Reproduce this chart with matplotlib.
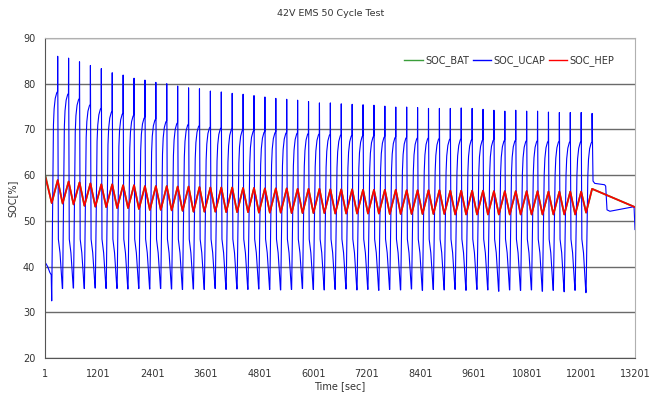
import numpy as np
import matplotlib
matplotlib.use('Agg')
from matplotlib import pyplot as plt

# timing of the 50 cycles [sec]
first_peak_t = 285
cycle_len = 244

# per-cycle values
ucap_peak = [86.0, 85.6, 84.8, 84.0, 83.3, 82.4, 81.9, 81.2, 80.8, 80.3,
             80.0, 79.5, 79.1, 78.9, 78.4, 78.2, 77.9, 77.7, 77.4, 77.1,
             76.8, 76.6, 76.4, 76.1, 75.8, 75.8, 75.6, 75.5, 75.4, 75.3,
             75.1, 74.9, 74.9, 74.8, 74.6, 74.6, 74.6, 74.7, 74.6, 74.4,
             74.2, 74.0, 74.2, 74.0, 74.0, 73.8, 73.7, 73.7, 73.7, 73.5]
ucap_shoulder = [78.0, 77.6, 76.5, 75.2, 74.4, 73.7, 73.3, 72.9, 72.4, 72.0,
                 71.6, 71.2, 70.9, 70.6, 70.3, 70.1, 69.9, 69.7, 69.5, 69.3,
                 69.2, 69.1, 69.0, 68.9, 68.8, 68.7, 68.6, 68.5, 68.4, 68.3,
                 68.2, 68.1, 68.0, 67.9, 67.9, 67.8, 67.7, 67.7, 67.6, 67.5,
                 67.5, 67.4, 67.4, 67.3, 67.3, 67.2, 67.2, 67.1, 67.1, 67.0]
ucap_low = [32.5, 35.2, 35.3, 35.2, 35.3, 35.2, 35.2, 35.1, 35.2, 35.1,
            35.2, 35.1, 35.0, 35.1, 35.0, 35.2, 35.0, 35.1, 35.0, 35.1,
            35.0, 34.9, 35.0, 35.2, 35.0, 34.9, 35.0, 35.1, 34.9, 35.0,
            34.8, 35.0, 34.9, 35.1, 34.8, 35.0, 34.9, 35.0, 34.8, 35.0,
            34.9, 34.6, 34.9, 34.8, 34.9, 34.6, 34.8, 34.5, 34.8, 34.3]
hep_peak = [58.9, 58.6, 58.4, 58.2, 58.0, 58.0, 57.8, 57.8, 57.6, 57.6,
            57.6, 57.5, 57.5, 57.4, 57.3, 57.3, 57.3, 57.2, 57.2, 57.1,
            57.1, 57.1, 57.0, 57.0, 57.0, 56.9, 56.9, 56.9, 56.8, 56.8,
            56.8, 56.8, 56.7, 56.7, 56.7, 56.7, 56.6, 56.6, 56.6, 56.6,
            56.5, 56.5, 56.5, 56.5, 56.5, 56.4, 56.4, 56.4, 56.4, 57.0]
hep_low = [53.9, 53.8, 53.6, 53.3, 53.1, 53.0, 52.8, 52.8, 52.6, 52.4,
           52.4, 52.3, 52.2, 52.0, 52.0, 52.0, 51.9, 51.9, 51.9, 51.8,
           51.8, 51.8, 51.7, 51.7, 51.7, 51.7, 51.6, 51.6, 51.6, 51.6,
           51.6, 51.5, 51.5, 51.5, 51.5, 51.5, 51.5, 51.4, 51.4, 51.4,
           51.4, 51.4, 51.4, 51.4, 51.4, 51.4, 51.4, 51.4, 51.4, 51.8]

# UCAP shape inside one cycle, offsets from the spike [sec]
rise_dt = [-134, -95, -80, -55, -22, -3]
rise_dv = [None, -7.0, -3.5, -1.2, 0.0, 0.3]   # relative to shoulder
fall_dt = [15, 52, 104]
fall_v = [46.0, 43.0, None]                   # None -> next low

# before the first cycle
start_t = [1, 60, 110, 140]
start_ucap = [41.0, 40.0, 38.7, 38.2]
start_hep_t = [1]
start_hep = [60.0]
start_bat_t = [1, 8]
start_bat = [44.0, 60.0]

# after the last cycle
tail_t = [12262, 12300, 12520, 12545, 12575, 12640, 13180, 13201]
tail_ucap = [58.7, 58.2, 57.9, 57.6, 52.4, 52.1, 53.1, 48.1]
end_t = 13201
end_hep = 53.0

x_ticks = [1, 1201, 2401, 3601, 4801, 6001, 7201, 8401, 9601, 10801, 12001, 13201]

# build the series
ut, uv = list(start_t), list(start_ucap)
ht, hv = list(start_hep_t), list(start_hep)
n = len(ucap_peak)
for k in range(n):
    tp = first_peak_t + k * cycle_len
    for dt, dv in zip(rise_dt, rise_dv):
        ut.append(tp + dt)
        uv.append(ucap_low[k] if dv is None else ucap_shoulder[k] + dv)
    ut.append(tp)
    uv.append(ucap_peak[k])
    if k < n - 1:
        for dt, v in zip(fall_dt, fall_v):
            ut.append(tp + dt)
            uv.append(ucap_low[k + 1] if v is None else v)
    ht += [tp - 134, tp]
    hv += [hep_low[k], hep_peak[k]]
ut += tail_t
uv += tail_ucap
ht.append(end_t)
hv.append(end_hep)
bt = start_bat_t + ht[1:]
bv = start_bat + hv[1:]

plt.rcParams['font.family'] = 'DejaVu Sans'
fig = plt.figure(figsize=(6.54, 3.98), dpi=100)
ax = fig.add_axes([45 / 654, 1 - 358 / 398, 590 / 654, 320 / 398])

ax.plot(bt, bv, color='#3a9e3a', lw=1.3, label='SOC_BAT')
ax.plot(ut, uv, color='#0000ff', lw=0.8, label='SOC_UCAP')
ax.plot(ht, hv, color='#ff0000', lw=1.2, label='SOC_HEP')

ax.set_xlim(1, 13201)
ax.set_ylim(20, 90)
ax.set_xticks(x_ticks)
ax.set_yticks(range(20, 91, 10))
ax.yaxis.grid(True, color='#6a6a6a', lw=1.0)
ax.set_axisbelow(True)
ax.tick_params(length=0, labelsize=7, colors='#333333')
ax.tick_params(axis='x', pad=8)
ax.tick_params(axis='y', pad=7)
for s in ['top', 'right']:
    ax.spines[s].set_color('#b0b0b0')
for s in ['left', 'bottom']:
    ax.spines[s].set_color('#555555')

fig.text(0.506, 1 - 13 / 398, '42V EMS 50 Cycle Test', ha='center', va='center',
         fontsize=6.8, color='#333333')
fig.text(12 / 654, 1 - 198 / 398, 'SOC[%]', rotation=90, ha='center', va='center',
         fontsize=7, color='#333333')
fig.text(340 / 654, 1 - 386 / 398, 'Time [sec]', ha='center', va='center',
         fontsize=7, color='#333333')

leg = ax.legend(loc='center right', bbox_to_anchor=(0.972, 0.93), ncol=3,
                frameon=False, fontsize=7, handlelength=1.9, handletextpad=0.25,
                columnspacing=0.35, borderaxespad=0)
for t in leg.get_texts():
    t.set_color('#333333')
for h in leg.get_lines():
    h.set_linewidth(1.0)

fig.savefig('out.png', dpi=100)
